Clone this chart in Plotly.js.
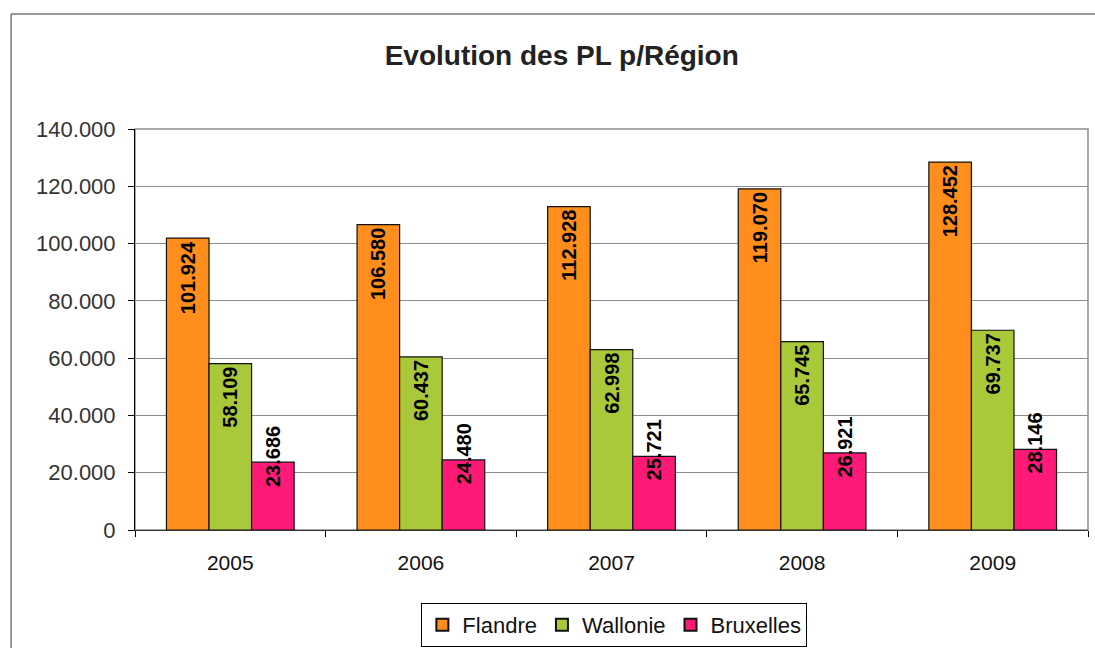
<!DOCTYPE html>
<html>
<head>
<meta charset="utf-8">
<script src="https://cdn.plot.ly/plotly-3.0.1.min.js"></script>
<style>html,body{margin:0;padding:0;background:#fff;}#chart{width:1095px;height:648px;}</style>
</head>
<body>
<div id="chart"></div>
<script>
const years = ['2005', '2006', '2007', '2008', '2009'];
const flandre = [101924, 106580, 112928, 119070, 128452];
const wallonie = [58109, 60437, 62998, 65745, 69737];
const bruxelles = [23686, 24480, 25721, 26921, 28146];
const yTicks = [0, 20000, 40000, 60000, 80000, 100000, 120000, 140000];

const FONT = 'Liberation Sans, Arial, sans-serif';
const BARGAP = 0.33;
const barW = (1 - BARGAP) / 3;

function barTrace(name, vals, color, withText) {
  return {
    type: 'bar', name: name, x: years, y: vals,
    marker: {color: color, line: {color: '#111', width: 1.2}},
    text: withText ? vals : undefined,
    texttemplate: withText ? '%{y:,d}' : undefined,
    textposition: withText ? 'inside' : 'none',
    insidetextanchor: 'end',
    textangle: -90,
    textfont: {family: FONT, size: 20, color: '#000', weight: 'bold'},
    hoverinfo: 'none'
  };
}

const data = [
  barTrace('Flandre', flandre, '#FF8E1C', true),
  barTrace('Wallonie', wallonie, '#A9C93B', true),
  barTrace('Bruxelles', bruxelles, '#FF1A78', false)
];

const annotations = bruxelles.map((v, i) => ({
  xref: 'x', yref: 'y', x: i + barW, y: v,
  text: v.toLocaleString('de-DE'),
  textangle: -90, showarrow: false,
  xanchor: 'center', yanchor: 'middle', yshift: 6,
  font: {family: FONT, size: 20, color: '#000', weight: 'bold'}
}));

const layout = {
  width: 1095, height: 648,
  margin: {l: 135, r: 7, t: 129, b: 118, autoexpand: false},
  paper_bgcolor: '#fff', plot_bgcolor: '#fff',
  separators: ',.',
  font: {family: FONT, color: '#222'},
  title: {
    text: 'Evolution des PL p/Région',
    font: {family: FONT, size: 28, color: '#222', weight: 'bold'},
    xref: 'container', x: 0.513, xanchor: 'center',
    yref: 'container', y: 1 - 55 / 648, yanchor: 'middle'
  },
  barmode: 'group', bargap: BARGAP, bargroupgap: 0,
  showlegend: true,
  legend: {
    orientation: 'h', x: 0.503, xanchor: 'center',
    yref: 'container', y: 1 - 625 / 648, yanchor: 'middle',
    bordercolor: '#000', borderwidth: 1,
    font: {family: FONT, size: 22, color: '#111'},
    itemwidth: 30, tracegroupgap: 0, itemsizing: 'constant'
  },
  xaxis: {
    type: 'category', tickson: 'boundaries', ticks: 'outside', ticklen: 6, tickcolor: '#000',
    showline: true, linecolor: '#333', linewidth: 1,
    tickfont: {family: FONT, size: 21, color: '#111'},
    ticklabelstandoff: 14, automargin: false,
    showgrid: false, zeroline: false, fixedrange: true
  },
  yaxis: {
    range: [0, 140000], tickvals: yTicks, tickformat: ',d',
    ticks: 'outside', ticklen: 6, tickcolor: '#000',
    showline: true, linecolor: '#000', linewidth: 1,
    gridcolor: '#8c8c8c', gridwidth: 1, zeroline: false,
    tickfont: {family: FONT, size: 22, color: '#333'},
    ticklabelstandoff: 8, automargin: false, fixedrange: true
  },
  shapes: [
    {type: 'rect', xref: 'paper', yref: 'paper', x0: 0, x1: 1, y0: 0, y1: 1,
     line: {color: '#8c8c8c', width: 1.5}, layer: 'below'},
    {type: 'line', xref: 'paper', yref: 'paper', x0: -0.13, x1: -0.13, y0: -0.5, y1: 1.287,
     line: {color: '#777', width: 1.5}},
    {type: 'line', xref: 'paper', yref: 'paper', x0: -0.13, x1: 1.2, y0: 1.287, y1: 1.287,
     line: {color: '#777', width: 1.5}}
  ],
  annotations: annotations
};

Plotly.newPlot('chart', data, layout, {displayModeBar: false, staticPlot: true});
</script>
</body>
</html>
